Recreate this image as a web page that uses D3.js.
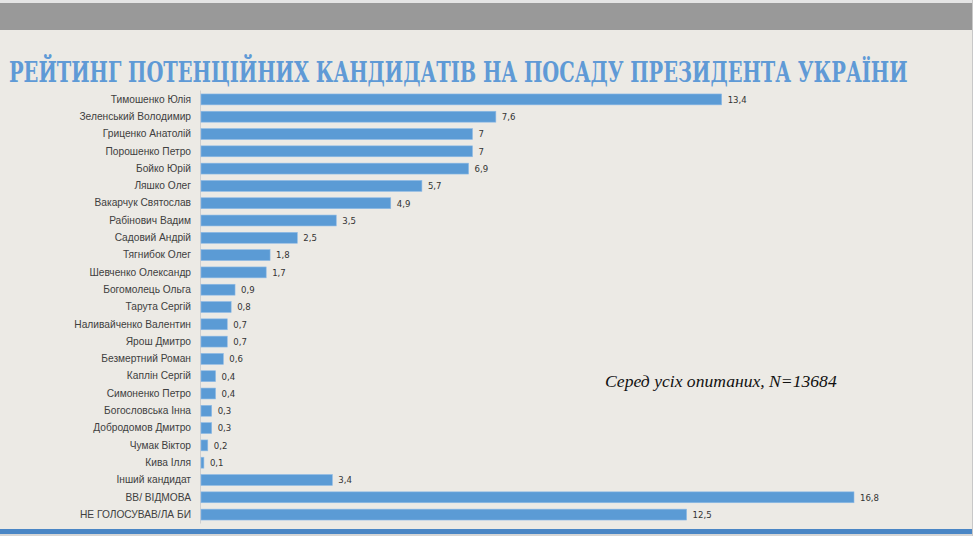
<!DOCTYPE html>
<html>
<head>
<meta charset="utf-8">
<script src="https://cdn.jsdelivr.net/npm/d3@7"></script>
<style>
  html, body { margin: 0; padding: 0; background: #fff; }
  svg { display: block; }
</style>
</head>
<body>
<div id="chart"></div>
<script>
// Data_____________________________________________________________________
const candidates = [
  'Тимошенко Юлія', 'Зеленський Володимир', 'Гриценко Анатолій', 'Порошенко Петро',
  'Бойко Юрій', 'Ляшко Олег', 'Вакарчук Святослав', 'Рабінович Вадим',
  'Садовий Андрій', 'Тягнибок Олег', 'Шевченко Олександр', 'Богомолець Ольга',
  'Тарута Сергій', 'Наливайченко Валентин', 'Ярош Дмитро', 'Безмертний Роман',
  'Каплін Сергій', 'Симоненко Петро', 'Богословська Інна', 'Добродомов Дмитро',
  'Чумак Віктор', 'Кива Ілля', 'Інший кандидат', 'ВВ/ ВІДМОВА', 'НЕ ГОЛОСУВАВ/ЛА БИ'
];
const ratings = [
  13.4, 7.6, 7, 7, 6.9, 5.7, 4.9, 3.5, 2.5, 1.8, 1.7, 0.9, 0.8, 0.7, 0.7, 0.6,
  0.4, 0.4, 0.3, 0.3, 0.2, 0.1, 3.4, 16.8, 12.5
];
const title = 'РЕЙТИНГ ПОТЕНЦІЙНИХ КАНДИДАТІВ НА ПОСАДУ ПРЕЗИДЕНТА УКРАЇНИ';
const note = 'Серед усіх опитаних, N=13684';

const data = candidates.map((name, i) => ({ name: name, value: ratings[i] }));

// Sizes____________________________________________________________________
const width = 975;
const height = 536;
const barColor = '#5b9bd5';

const svg = d3.select('#chart')
  .append('svg')
  .attr('width', width)
  .attr('height', height);

// Slide background__________________________________________________________
svg.append('rect')
  .attr('x', 0).attr('y', 0)
  .attr('width', 972).attr('height', height)
  .attr('fill', '#eceae5');
svg.append('rect')
  .attr('x', 0).attr('y', 0)
  .attr('width', 972).attr('height', 3)
  .attr('fill', '#e4e4e4');
svg.append('rect')
  .attr('x', 0).attr('y', 3)
  .attr('width', 972).attr('height', 27)
  .attr('fill', '#999999');
svg.append('rect')
  .attr('x', 0).attr('y', 529)
  .attr('width', 972).attr('height', 5)
  .attr('fill', '#4a86c5');
svg.append('rect')
  .attr('x', 0).attr('y', 534)
  .attr('width', 972).attr('height', 2)
  .attr('fill', '#d6d6d6');
svg.append('line')
  .attr('x1', 972.5).attr('x2', 972.5)
  .attr('y1', 0).attr('y2', height)
  .attr('stroke', '#c8c8c8');

// Title (squeezed to the slide width)______________________________________
const titleText = svg.append('text')
  .attr('x', 0)
  .attr('y', 0)
  .attr('font-family', '"DejaVu Serif Condensed", "Liberation Serif", serif')
  .attr('font-weight', 'bold')
  .attr('font-size', 27)
  .attr('fill', '#5f9ad6')
  .text(title);
const titleWidth = titleText.node().getComputedTextLength();
titleText.attr('transform', `translate(9, 82) scale(${899 / titleWidth}, 1)`);

// Scales___________________________________________________________________
const xScale = d3.scaleLinear()
  .domain([0, 16.8])
  .range([200, 854]);

const yScale = d3.scaleBand()
  .domain(candidates)
  .range([90.5, 523.5])
  .paddingInner(0.37)
  .paddingOuter(0.2);

// Axis (category labels)___________________________________________________
const yAxis = d3.axisLeft(yScale).tickSize(0).tickPadding(9);
const axisG = svg.append('g')
  .attr('transform', `translate(${xScale(0)}, 0)`)
  .call(yAxis);
axisG.select('.domain')
  .attr('stroke', '#cfcfcf')
  .attr('d', `M0.5,${yScale.range()[0]}V${yScale.range()[1]}`);
axisG.selectAll('text')
  .attr('font-family', '"Liberation Sans", Arial, sans-serif')
  .attr('font-size', 10.2)
  .attr('fill', '#404040');

// Bars_____________________________________________________________________
svg.append('g')
  .selectAll('rect')
  .data(data)
  .enter()
  .append('rect')
  .attr('x', xScale(0) + 1)
  .attr('y', d => yScale(d.name))
  .attr('width', d => xScale(d.value) - xScale(0) - 1)
  .attr('height', yScale.bandwidth())
  .attr('fill', barColor)
  .attr('stroke', '#8fbbe6')
  .attr('stroke-width', 0.6);

// Value labels_____________________________________________________________
svg.append('g')
  .selectAll('text')
  .data(data)
  .enter()
  .append('text')
  .attr('x', d => xScale(d.value) + 6)
  .attr('y', d => yScale(d.name) + yScale.bandwidth() / 2)
  .attr('dy', '0.35em')
  .attr('font-family', '"DejaVu Sans Condensed", "Liberation Sans", Arial, sans-serif')
  .attr('font-size', 9.5)
  .attr('fill', '#333333')
  .text(d => String(d.value).replace('.', ','));

// Note_____________________________________________________________________
svg.append('text')
  .attr('x', 605)
  .attr('y', 387)
  .attr('font-family', '"Liberation Serif", "Times New Roman", serif')
  .attr('font-style', 'italic')
  .attr('font-size', 17.6)
  .attr('fill', '#111111')
  .text(note);
</script>
</body>
</html>
